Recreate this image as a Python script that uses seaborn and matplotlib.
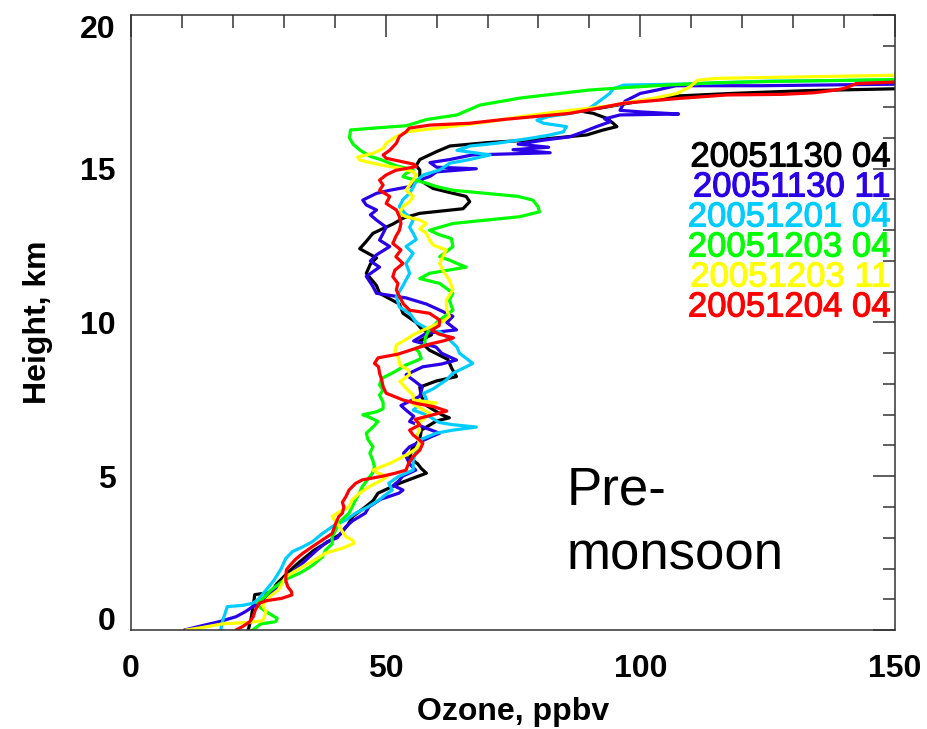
import matplotlib
matplotlib.use("Agg")
import matplotlib.pyplot as plt
import matplotlib.patheffects as pe
from matplotlib.ticker import MultipleLocator
import seaborn as sns

# ---------------- data ----------------
labels = ["20051130 04", "20051130 11", "20051201 04",
          "20051203 04", "20051203 11", "20051204 04"]
colors = ["#000000", "#2a00e6", "#00ccff", "#00ff00", "#ffff00", "#ff0000"]

black_oz = [23, 23.5, 24, 24.3, 27.3, 27.8, 28.6, 31, 33, 36, 41, 42.5, 43.6, 46, 47.5, 48.5,
            52.7, 58, 57, 56.3, 54.7, 55.2, 56.7, 57, 60, 62.5, 61, 58, 57, 56.7, 60, 63.9,
            63, 62.2, 58.6, 56.7, 59, 57, 56, 53.4, 52.7, 48.8, 48.2, 46.2, 47, 48.2, 44.9,
            46, 47.5, 51.4, 53.5, 56.7, 65.2, 66.5, 65.8, 62, 59.3, 56.7, 56.7, 56, 56.7,
            59.9, 62.6, 70, 80, 89.5, 92.7, 95.4, 94.5, 93.4, 90.8, 87.5, 92, 100, 107.7,
            118, 132.6, 150]
black_h = [0.0, 0.3, 0.8, 1.15, 1.22, 1.3, 1.5, 1.9, 2.2, 2.6, 3.1, 3.4, 3.7, 4.0, 4.2, 4.45,
           4.77, 5.1, 5.25, 5.4, 5.6, 5.9, 6.2, 6.5, 6.8, 6.9, 7.0, 7.3, 7.6, 7.9, 8.1, 8.24,
           8.5, 8.8, 9.1, 9.4, 9.6, 9.8, 10.0, 10.3, 10.6, 10.95, 11.2, 11.6, 11.9, 12.1, 12.4,
           12.6, 12.9, 13.2, 13.4, 13.55, 13.7, 13.93, 14.1, 14.25, 14.36, 14.63, 14.96, 15.1, 15.3,
           15.55, 15.74, 15.85, 15.95, 16.1, 16.26, 16.37, 16.5, 16.64, 16.8, 16.9, 16.97, 17.2, 17.37,
           17.45, 17.54, 17.6]

blue_oz = [10.5, 14.2, 17.3, 20.6, 22.5, 23.9, 25.0, 26.5, 28.0, 29.8, 31.5, 33.0, 34.5, 36.5,
           38.5, 40.5, 42.2, 43.5, 46.0, 46.7, 49.0, 52.6, 53.4, 51.5, 52.6, 53.3, 55.9, 54.7,
           54.0, 53.5, 54.7, 56.5, 59.0, 60.6, 58.0, 54.7, 55.5, 54.0, 53.0, 56.7, 57.2, 55.4,
           54.0, 57.3, 61.0, 63.9, 61.0, 59.9, 55.5, 58.0, 63.9, 62.0, 63.2, 60.0, 58.0, 54.0,
           48.2, 47.5, 46.2, 48.8, 47.0, 48.2, 50.8, 48.8, 49.5, 50.1, 48.2, 47.0, 48.2, 46.2,
           45.5, 48.2, 50.8, 54.7, 56.0, 58.7, 60.0, 67.8, 60.0, 58.7, 62.6, 67.0, 82.3, 75.0,
           82.0, 76.0, 81.0, 86.2, 88.8, 91.4, 94.1, 93.0, 96.0, 107.5, 100.0, 96.0, 97.0, 100.0,
           103.0, 107.0, 123.5, 150.0]
blue_h = [0.0, 0.15, 0.27, 0.43, 0.6, 0.76, 0.85, 1.0, 1.25, 1.55, 1.85, 2.06, 2.3, 2.6,
          2.87, 3.0, 3.36, 3.55, 3.8, 4.0, 4.25, 4.45, 4.55, 4.7, 4.85, 5.0, 5.2, 5.4,
          5.64, 5.75, 5.96, 6.1, 6.29, 6.4, 6.56, 6.78, 6.95, 7.15, 7.3, 7.6, 7.9, 8.13,
          8.3, 8.56, 8.65, 8.78, 9.0, 9.2, 9.4, 9.65, 9.76, 10.0, 10.2, 10.45, 10.6, 10.8,
          10.95, 11.17, 11.5, 11.8, 12.0, 12.2, 12.47, 12.68, 12.9, 13.1, 13.33, 13.5, 13.66, 13.82,
          13.98, 14.2, 14.3, 14.42, 14.6, 14.75, 14.9, 15.0, 15.05, 15.2, 15.3, 15.45, 15.52, 15.62,
          15.7, 15.8, 15.93, 16.04, 16.2, 16.37, 16.53, 16.62, 16.75, 16.78, 16.85, 16.9, 17.2, 17.45,
          17.55, 17.7, 17.7, 17.75]

cyan_oz = [17.6, 18.0, 18.9, 21.9, 23.9, 25.0, 26.5, 28.0, 29.5, 30.4, 31.7, 33.7, 35.6, 37.6,
           39.5, 42.2, 44.1, 46.5, 48.7, 50.0, 51.3, 50.6, 52.6, 55.4, 55.4, 56.0, 56.7, 59.9,
           63.2, 67.8, 63.0, 60.5, 58.0, 55.4, 56.5, 58.0, 57.5, 59.4, 61.9, 63.2, 65.8, 67.1,
           65.3, 64.5, 64.0, 61.9, 60.6, 58.6, 56.0, 54.7, 52.7, 52.1, 53.4, 54.7, 54.0, 55.4,
           54.0, 56.0, 55.4, 54.7, 55.4, 53.8, 52.7, 53.4, 54.7, 55.4, 56.0, 57.4, 60.6, 62.6,
           66.5, 70.5, 64.0, 66.6, 71.8, 78.4, 82.3, 84.9, 85.5, 81.0, 79.7, 82.0, 86.2, 89.5,
           91.4, 94.0, 94.7, 96.7, 110.0, 125.0, 150.0]
cyan_h = [0.0, 0.3, 0.76, 0.8, 0.87, 1.0, 1.3, 1.6, 2.0, 2.33, 2.55, 2.7, 2.87, 3.14,
          3.36, 3.58, 3.8, 4.0, 4.23, 4.4, 4.55, 4.77, 5.0, 5.2, 5.5, 5.85, 6.18, 6.4,
          6.5, 6.6, 6.68, 6.75, 7.0, 7.15, 7.3, 7.5, 7.7, 7.85, 8.13, 8.35, 8.56, 8.67,
          8.9, 9.0, 9.2, 9.54, 9.7, 9.76, 10.0, 10.3, 10.5, 10.84, 11.2, 11.6, 11.92, 12.25,
          12.47, 12.7, 12.9, 13.1, 13.33, 13.55, 13.77, 14.0, 14.2, 14.4, 14.6, 14.8, 14.96, 15.18,
          15.3, 15.45, 15.6, 15.74, 15.83, 15.99, 16.1, 16.2, 16.37, 16.48, 16.58, 16.7, 16.8, 16.91,
          17.13, 17.45, 17.6, 17.72, 17.76, 17.85, 17.88]

green_oz = [23.9, 25.5, 28.4, 28.7, 27.1, 26.0, 25.2, 24.9, 25.6, 27.5, 30.1, 33.0, 34.2, 35.6,
            37.6, 38.2, 39.5, 39.5, 40.2, 40.8, 41.5, 42.8, 43.4, 44.1, 44.8, 45.4, 46.4, 47.4,
            47.8, 47.5, 46.9, 47.5, 46.5, 46.2, 47.5, 48.5, 46.5, 45.5, 48.3, 49.5, 49.5, 48.8,
            49.5, 48.8, 49.2, 51.8, 54.0, 55.5, 57.0, 56.5, 55.8, 57.6, 57.8, 58.3, 60.2, 63.2,
            62.5, 63.2, 62.0, 60.6, 56.7, 58.6, 65.8, 64.0, 62.5, 60.6, 61.9, 63.2, 62.9, 60.6,
            58.6, 63.2, 69.7, 76.3, 80.2, 79.9, 78.9, 76.0, 69.7, 63.2, 60.0, 58.0, 53.4, 54.0,
            55.4, 52.0, 49.0, 47.0, 45.0, 43.6, 42.9, 43.1, 47.5, 54.1, 58.0, 64.0, 68.5, 76.4,
            84.2, 90.0, 98.0, 105.0, 115.0, 130.0, 150.0]
green_h = [0.0, 0.2, 0.27, 0.38, 0.54, 0.65, 0.76, 0.87, 0.98, 1.3, 1.63, 1.84, 1.95, 2.1,
           2.38, 2.6, 2.8, 3.03, 3.25, 3.47, 3.6, 3.8, 4.0, 4.23, 4.44, 4.66, 4.88, 5.1,
           5.31, 5.5, 5.75, 5.96, 6.2, 6.4, 6.6, 6.78, 6.94, 7.0, 7.1, 7.2, 7.4, 7.64,
           7.8, 7.97, 8.18, 8.4, 8.62, 8.72, 8.83, 9.05, 9.15, 9.27, 9.5, 9.7, 10.03, 10.4,
           10.73, 10.95, 11.1, 11.27, 11.43, 11.6, 11.8, 11.92, 12.03, 12.14, 12.3, 12.47, 12.73, 12.85,
           13.0, 13.22, 13.33, 13.44, 13.6, 13.77, 13.98, 14.1, 14.2, 14.3, 14.42, 14.53, 14.74, 14.85,
           14.96, 15.1, 15.3, 15.4, 15.6, 15.8, 16.0, 16.26, 16.32, 16.4, 16.6, 16.75, 17.07, 17.3,
           17.45, 17.56, 17.65, 17.72, 17.8, 17.85, 17.9]

yellow_oz = [10.8, 14.0, 18.0, 22.5, 25.8, 26.2, 26.5, 25.8, 27.2, 28.9, 29.5, 30.4, 33.7, 36.3,
             38.2, 41.5, 43.8, 43.5, 42.2, 41.5, 40.8, 39.9, 39.5, 41.0, 42.8, 43.4, 44.8, 46.7,
             48.0, 49.3, 50.3, 48.5, 47.5, 49.0, 50.8, 53.0, 54.7, 56.0, 56.7, 56.0, 56.7, 56.0,
             57.4, 58.6, 57.0, 55.4, 60.0, 55.4, 55.4, 54.0, 52.8, 54.7, 54.5, 52.8, 52.5, 51.8,
             52.1, 54.0, 55.4, 58.0, 61.2, 62.5, 62.0, 61.9, 63.2, 62.5, 61.2, 60.6, 61.2, 61.9,
             59.3, 58.6, 58.0, 56.7, 58.0, 56.7, 54.0, 52.7, 53.4, 54.7, 55.4, 54.0, 54.7, 55.4,
             56.0, 55.4, 53.4, 50.1, 47.5, 44.9, 44.5, 47.5, 49.5, 50.1, 52.1, 54.0, 60.0, 66.5,
             71.5, 75.9, 82.3, 87.5, 94.5, 98.0, 103.0, 107.2, 109.8, 111.2, 115.1, 132.6, 150.0]
yellow_h = [0.0, 0.08, 0.2, 0.24, 0.3, 0.43, 0.6, 0.81, 1.08, 1.3, 1.46, 1.73, 2.06, 2.3,
            2.5, 2.66, 2.82, 2.92, 3.03, 3.2, 3.4, 3.58, 3.69, 3.85, 4.0, 4.23, 4.44, 4.66,
            4.77, 4.88, 5.0, 5.1, 5.2, 5.3, 5.42, 5.6, 5.75, 5.9, 6.1, 6.29, 6.5, 6.7,
            6.85, 7.05, 7.2, 7.35, 7.38, 7.48, 7.64, 7.86, 8.08, 8.3, 8.45, 8.62, 8.85, 9.05,
            9.27, 9.45, 9.6, 9.8, 10.03, 10.2, 10.4, 10.73, 11.06, 11.38, 11.7, 11.92, 12.14, 12.36,
            12.52, 12.68, 12.9, 13.05, 13.22, 13.33, 13.44, 13.55, 13.77, 13.93, 14.1, 14.3, 14.47, 14.63,
            14.8, 14.9, 15.0, 15.09, 15.18, 15.28, 15.38, 15.5, 15.66, 15.83, 16.05, 16.2, 16.32, 16.45,
            16.56, 16.68, 16.82, 16.92, 17.06, 17.17, 17.3, 17.45, 17.67, 17.88, 17.94, 17.99, 18.04]

red_oz = [20.6, 22.0, 23.3, 24.0, 24.4, 25.2, 26.5, 29.6, 31.6, 31.5, 30.8, 30.4, 30.4, 30.5,
          31.0, 32.3, 33.7, 35.6, 37.6, 39.5, 40.2, 40.8, 41.5, 41.8, 41.5, 42.2, 42.8, 44.1,
          45.4, 49.3, 51.9, 54.0, 54.5, 55.4, 56.7, 57.3, 56.5, 55.4, 54.7, 56.7, 55.8, 59.3,
          62.0, 59.5, 56.0, 53.4, 50.1, 49.5, 49.2, 48.8, 48.6, 47.8, 48.5, 52.4, 56.7, 58.7,
          61.3, 63.3, 60.5, 59.0, 60.5, 60.6, 58.6, 54.7, 53.5, 52.7, 52.1, 52.4, 51.4, 51.8,
          53.4, 52.0, 53.0, 51.4, 52.0, 52.7, 53.0, 52.7, 52.1, 50.1, 50.8, 48.8, 49.5, 48.8,
          50.1, 52.0, 56.0, 55.5, 53.5, 50.1, 49.5, 50.8, 52.1, 52.7, 54.0, 54.6, 58.7, 66.5,
          73.0, 79.5, 86.1, 91.4, 96.7, 107.8, 117.0, 128.0, 134.0, 138.0, 140.0, 142.4, 150.0]
red_h = [0.0, 0.12, 0.27, 0.43, 0.65, 0.87, 0.95, 1.03, 1.14, 1.25, 1.4, 1.6, 1.73, 1.95,
         2.06, 2.3, 2.49, 2.71, 2.93, 3.14, 3.47, 3.69, 3.8, 4.0, 4.15, 4.34, 4.55, 4.77,
         4.88, 5.0, 5.1, 5.2, 5.42, 5.64, 5.85, 6.07, 6.2, 6.34, 6.5, 6.67, 6.85, 7.0,
         7.12, 7.26, 7.37, 7.48, 7.7, 7.91, 8.15, 8.35, 8.56, 8.67, 8.85, 8.97, 9.2, 9.3,
         9.4, 9.5, 9.62, 9.75, 9.9, 10.08, 10.3, 10.4, 10.6, 10.84, 11.06, 11.27, 11.49, 11.7,
         11.92, 12.14, 12.36, 12.57, 12.8, 13.0, 13.22, 13.44, 13.66, 13.87, 14.1, 14.3, 14.47, 14.63,
         14.8, 14.95, 15.07, 15.15, 15.22, 15.34, 15.45, 15.6, 15.83, 16.05, 16.2, 16.32, 16.42, 16.48,
         16.6, 16.7, 16.8, 16.96, 17.13, 17.29, 17.4, 17.42, 17.47, 17.55, 17.61, 17.77, 17.82]

series_oz = [black_oz, blue_oz, cyan_oz, green_oz, yellow_oz, red_oz]
series_h = [black_h, blue_h, cyan_h, green_h, yellow_h, red_h]

x_ticks = [0, 50, 100, 150]
y_ticks = [0, 5, 10, 15, 20]

# ---------------- figure ----------------
sns.set_theme(style="white")
plt.rcParams["font.family"] = ["Liberation Sans", "DejaVu Sans"]
plt.rcParams["text.color"] = "black"
plt.rcParams["axes.labelcolor"] = "black"
plt.rcParams["xtick.color"] = "black"
plt.rcParams["ytick.color"] = "black"

W, H = 928, 729
fig = plt.figure(figsize=(W / 100, H / 100), dpi=100)
ax = fig.add_axes([131 / W, 1 - 630 / H, (895 - 131) / W, (630 - 15) / H])

for oz, hh, c in zip(series_oz, series_h, colors):
    sns.lineplot(x=oz, y=hh, sort=False, estimator=None, color=c,
                 linewidth=2.3, ax=ax, legend=False)

ax.set_xlim(0, 150)
ax.set_ylim(0, 20)
ax.set_xticks(x_ticks)
ax.set_yticks(y_ticks)
ax.xaxis.set_minor_locator(MultipleLocator(10))
ax.yaxis.set_minor_locator(MultipleLocator(1))
ax.tick_params(which="both", direction="in", top=True, right=True,
               color="#333333", width=1.1, labelcolor="black")
ax.tick_params(which="major", length=16)
ax.tick_params(which="minor", length=9)
ax.tick_params(axis="x", which="major", pad=17)
ax.tick_params(axis="y", which="major", pad=11)
for s in ax.spines.values():
    s.set_color("#333333")
    s.set_linewidth(1.1)

ax.set_xticklabels([str(v) for v in x_ticks], fontsize=23, fontweight="bold")
ax.set_yticklabels([str(v) for v in y_ticks], fontsize=23, fontweight="bold")
ylabs = ax.get_yticklabels()
ylabs[-1].set_verticalalignment("top")
ylabs[0].set_verticalalignment("baseline")

ax.set_xlabel("Ozone, ppbv", fontsize=23, fontweight="bold")
ax.set_ylabel("Height, km", fontsize=23, fontweight="bold")
ax.xaxis.set_label_coords(0.5, (630 - 712) / 615)
ax.xaxis.label.set_verticalalignment("center")
ax.yaxis.set_label_coords((38 - 131) / 764, 0.5)
ax.yaxis.label.set_verticalalignment("center")

# legend-like coloured labels
for i, (lab, c) in enumerate(zip(labels, colors)):
    ax.text((891 - 131) / 764, (630 - (157 + 30 * i)) / 615, lab, color=c,
            fontsize=25, ha="right", va="center", transform=ax.transAxes,
            path_effects=[pe.withStroke(linewidth=0.8, foreground=c)])

ax.text((567 - 131) / 764, (630 - 505) / 615, "Pre-", fontsize=38,
        ha="left", va="baseline", transform=ax.transAxes)
ax.text((567 - 131) / 764, (630 - 570) / 615, "monsoon", fontsize=38,
        ha="left", va="baseline", transform=ax.transAxes)

fig.savefig("out.png", dpi=100)
